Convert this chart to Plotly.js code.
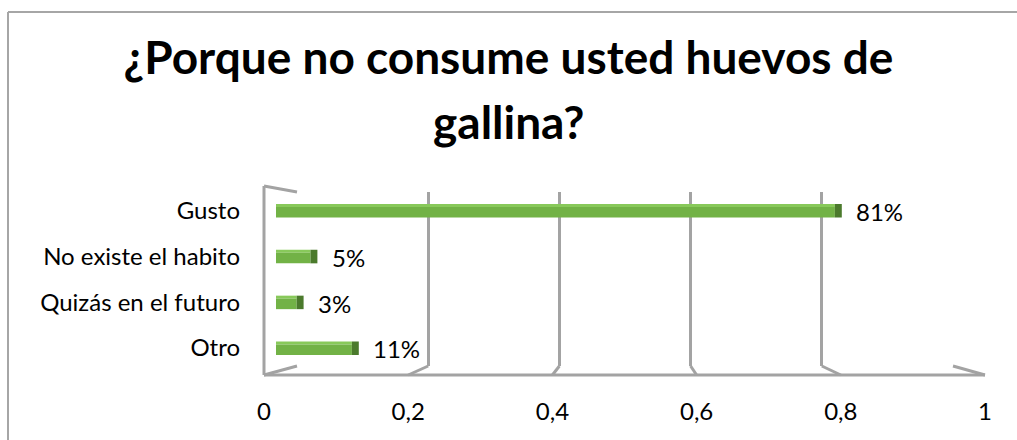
<!DOCTYPE html>
<html>
<head>
<meta charset="utf-8">
<script src="https://cdn.plot.ly/plotly-3.0.1.min.js"></script>
<style>
  html, body { margin: 0; padding: 0; background: #fff; }
  #chart { width: 1017px; height: 440px; }
</style>
</head>
<body>
<div id="chart"></div>
<script>
// Survey answers, listed top to bottom
const categories = ['Gusto', 'No existe el habito', 'Quizás en el futuro', 'Otro'];
const shares = [0.81, 0.05, 0.03, 0.11];
const tickVals = [0, 0.2, 0.4, 0.6, 0.8, 1];
const tickText = ['0', '0,2', '0,4', '0,6', '0,8', '1'];

const titleLine1 = '¿Porque no consume usted huevos de';
const titleLine2 = 'gallina?';

const W = 1017, H = 440;
const fx = p => p / W;          // pixel column -> paper x
const fy = p => 1 - p / H;      // pixel row -> paper y

// 3-D box frame (pixels): back wall, mid plane (bars), front edge
const back = { x0: 297, x1: 953, top: 192, bottom: 366 };
const front = { x0: 264, x1: 985, top: 186, bottom: 375 };
const mid = { x0: 276, x1: 966, top: 187.6, bottom: 370.9 };

const gray = '#a3a3a3';
const green = { front: '#72b246', top: '#88c95a', end: '#4b7a2c' };
const font = 'Lato, "Open Sans", "DejaVu Sans", sans-serif';
const labelSize = 24;
const titleSize = 46;

// bar geometry in category units (one category = slot height)
const slot = (mid.bottom - mid.top) / 4;
const topFace = { offset: -6.5 / slot, width: 3 / slot };
const frontFace = { offset: -3.5 / slot, width: 10.5 / slot };
const endDepth = 0.01;

const backX = v => fx(back.x0 + v * (back.x1 - back.x0));
const frontX = v => fx(front.x0 + v * (front.x1 - front.x0));

const traces = [
  // back wall grid carrier
  { type: 'scatter', x: [], y: [], xaxis: 'x', yaxis: 'y', hoverinfo: 'skip', showlegend: false },
  // top face of each bar
  { type: 'bar', orientation: 'h', x: shares, y: categories, xaxis: 'x2', yaxis: 'y2',
    offset: topFace.offset, width: topFace.width,
    marker: { color: green.top, line: { width: 0 } }, hoverinfo: 'skip', showlegend: false },
  // front face of each bar
  { type: 'bar', orientation: 'h', x: shares, y: categories, xaxis: 'x2', yaxis: 'y2',
    offset: frontFace.offset, width: frontFace.width,
    marker: { color: green.front, line: { width: 0 } }, showlegend: false },
  // end cap of each bar
  { type: 'bar', orientation: 'h', base: shares, x: shares.map(() => endDepth), y: categories,
    xaxis: 'x2', yaxis: 'y2',
    offset: topFace.offset, width: topFace.width + frontFace.width,
    marker: { color: green.end, line: { width: 0 } }, hoverinfo: 'skip', showlegend: false },
  // front axis carrier
  { type: 'scatter', x: [], y: [], xaxis: 'x3', yaxis: 'y3', hoverinfo: 'skip', showlegend: false }
];

// frame lines: outer border, left wall, floor
const shapes = [];
const line = (x0, y0, x1, y1, color, width) => shapes.push({
  type: 'line', xref: 'paper', yref: 'paper', layer: 'below',
  x0: x0, y0: y0, x1: x1, y1: y1, line: { color: color, width: width }
});
line(fx(8), fy(12), fx(W + 5), fy(12), '#a6a6a6', 2);
line(fx(8), fy(12), fx(8), fy(H + 5), '#a6a6a6', 2);
line(fx(front.x0), fy(front.top), fx(back.x0), fy(back.top), gray, 3);
line(fx(front.x0), fy(front.top), fx(front.x0), fy(front.bottom), gray, 3);
line(fx(front.x0), fy(front.bottom), fx(front.x1), fy(front.bottom), gray, 3);
tickVals.forEach(v => line(backX(v), fy(back.bottom), frontX(v), fy(front.bottom), gray, 3));

const annotations = [
  { text: titleLine2, xref: 'paper', yref: 'paper', x: 0.5, y: fy(151), xanchor: 'center', yanchor: 'bottom',
    showarrow: false, font: { family: font, size: titleSize, color: '#000', weight: 'bold' } }
];
shares.forEach((v, i) => annotations.push({
  text: Math.round(v * 100) + '%', xref: 'x2', yref: 'y2', x: v, y: categories[i],
  xanchor: 'left', yanchor: 'middle', xshift: 19, yshift: -1, showarrow: false,
  font: { family: font, size: labelSize, color: '#000' }
}));

const layout = {
  width: W, height: H,
  margin: { l: 0, r: 0, t: 0, b: 0 },
  paper_bgcolor: '#fff', plot_bgcolor: 'rgba(0,0,0,0)',
  separators: ',.',
  showlegend: false,
  barmode: 'overlay',
  title: {
    text: titleLine1, x: 0.5, xanchor: 'center', y: fy(74), yanchor: 'bottom', yref: 'container',
    font: { family: font, size: titleSize, color: '#000', weight: 'bold' }
  },
  xaxis: {
    domain: [fx(back.x0), fx(back.x1)], range: [0, 1], anchor: 'y',
    tickvals: tickVals, showticklabels: false, ticks: '',
    showgrid: true, gridcolor: gray, gridwidth: 3, zeroline: false, showline: false, fixedrange: true
  },
  yaxis: {
    domain: [fy(back.bottom), fy(back.top)], range: [0, 1], anchor: 'x',
    visible: false, showgrid: false, zeroline: false, fixedrange: true
  },
  xaxis2: {
    domain: [fx(mid.x0), fx(mid.x1)], range: [0, 1], anchor: 'y2',
    visible: false, showgrid: false, zeroline: false, fixedrange: true
  },
  yaxis2: {
    domain: [fy(mid.bottom), fy(mid.top)], type: 'category', categoryarray: categories,
    range: [3.5, -0.5], anchor: 'free', position: fx(240),
    showgrid: false, zeroline: false, showline: false, ticks: '',
    tickfont: { family: font, size: labelSize, color: '#000' }, fixedrange: true
  },
  xaxis3: {
    domain: [fx(front.x0), fx(front.x1)], range: [0, 1], anchor: 'y3',
    tickvals: tickVals, ticktext: tickText, ticks: '',
    showgrid: false, zeroline: false, showline: false,
    tickfont: { family: font, size: labelSize, color: '#000' }, fixedrange: true
  },
  yaxis3: {
    domain: [fy(395), fy(390)], range: [0, 1], anchor: 'x3',
    visible: false, showgrid: false, zeroline: false, fixedrange: true
  },
  shapes: shapes,
  annotations: annotations
};

Plotly.newPlot('chart', traces, layout, { staticPlot: true, displayModeBar: false });
</script>
</body>
</html>
